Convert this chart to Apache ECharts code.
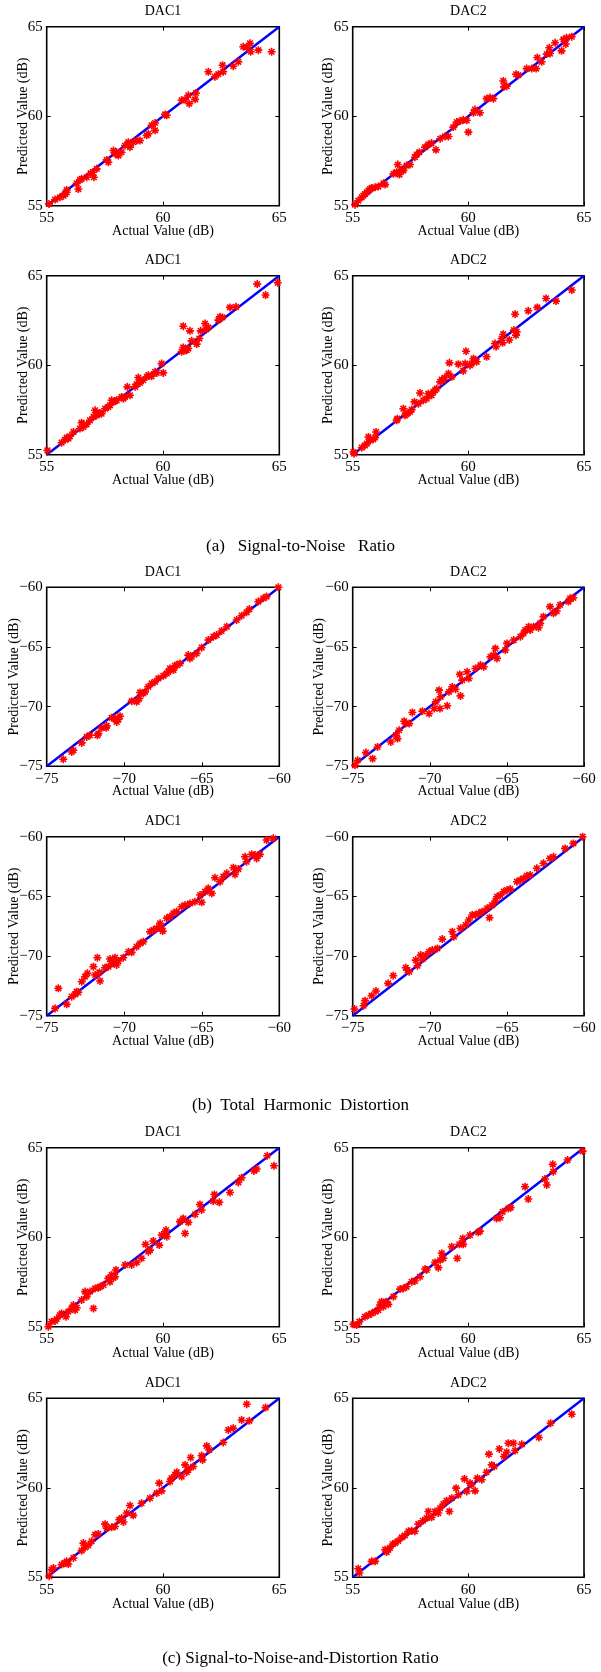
<!DOCTYPE html>
<html>
<head>
<meta charset="utf-8">
<script src="https://cdn.jsdelivr.net/npm/echarts@6/dist/echarts.min.js"></script>
<style>
html,body{margin:0;padding:0;background:#fff;}
#chart{width:601px;height:1672px;}
</style>
</head>
<body>
<div id="chart"></div>
<script>
// ---------------- DATA ----------------
const panelTitles = ['DAC1', 'DAC2', 'ADC1', 'ADC2'];
const captions = ['(a)   Signal-to-Noise   Ratio', '(b)  Total  Harmonic  Distortion', '(c) Signal-to-Noise-and-Distortion Ratio'];
const xAxisLabel = 'Actual Value (dB)';
const yAxisLabel = 'Predicted Value (dB)';
const snrRange = [55, 65];
const thdRange = [-75, -60];
const tickInterval = 5;

// (a) Signal-to-Noise Ratio  [actual, predicted]
const snrDac1 = [[55.1,55.1],[55.36,55.34],[55.57,55.47],[55.72,55.56],[55.79,55.65],[55.86,55.75],[55.86,55.88],
[56.29,56.25],[56.36,55.93],[56.43,56.44],[56.5,56.5],[56.72,56.59],[56.89,56.81],[56.98,56.87],[57.03,56.59],[57.15,57.06],
[57.58,57.56],[57.65,57.43],[57.87,58.08],[57.94,57.9],[58.01,57.99],[58.08,57.8],[58.22,57.99],[58.37,58.36],[58.51,58.55],
[58.58,58.27],[58.72,58.55],[58.87,58.64],[59.01,58.64],[59.3,58.93],[59.37,59.02],[59.51,59.49],[59.66,59.62],[59.66,59.21],
[60.09,60.1],[60.16,60.05],[60.8,60.89],[60.95,60.93],[61.09,61.17],[61.13,60.7],[61.38,60.94],[61.42,61.3],
[61.95,62.48],[62.23,62.2],[62.38,62.35],[62.56,62.85],[62.59,62.48],[63.02,62.79],[63.24,63.04],
[63.45,63.88],[63.6,63.84],[63.74,64.07],[63.77,63.6],[64.1,63.69],[64.67,63.6]];
const snrDac2 = [[55.1,55.06],[55.24,55.28],[55.39,55.47],[55.46,55.56],[55.53,55.65],[55.61,55.75],[55.68,55.84],[55.75,55.93],
[55.82,55.99],[55.97,56.03],[56.11,56.07],[56.33,56.25],[56.4,56.18],[56.76,56.78],[56.9,56.87],[56.95,57.3],[57.02,56.74],
[57.12,57.0],[57.19,56.96],[57.33,57.24],[57.48,57.3],[57.69,57.71],[57.77,57.86],[57.88,57.99],[58.13,58.27],[58.27,58.42],
[58.41,58.5],[58.6,58.12],[58.78,58.74],[58.99,58.87],[59.14,58.87],[59.35,59.39],[59.5,59.67],[59.64,59.73],[59.78,59.8],
[59.93,59.77],[60.0,59.11],[60.22,60.19],[60.29,60.37],[60.5,60.19],[60.79,60.98],[60.94,61.04],[61.08,60.98],[61.51,61.97],
[61.54,61.64],[61.66,61.68],[62.06,62.34],[62.16,62.29],[62.52,62.66],[62.74,62.66],[62.98,63.28],[62.93,62.66],[63.17,63.04],
[63.39,63.47],[63.53,63.5],[63.5,63.82],[63.75,64.1],[64.03,63.65],[64.11,64.29],[64.21,64.03],[64.25,64.38],[64.47,64.44]];
const snrAdc1 = [[55.03,55.24],[55.64,55.67],[55.79,55.84],[55.86,55.95],[55.93,55.9],[56.0,56.03],[56.15,56.27],[56.43,56.46],
[56.5,56.79],[56.58,56.55],[56.72,56.7],[56.86,56.92],[57.01,57.11],[57.08,57.48],[57.15,57.2],[57.22,57.29],[57.29,57.33],
[57.36,57.29],[57.51,57.57],[57.65,57.67],[57.72,57.76],[57.79,58.04],[57.87,57.95],[57.94,58.0],[58.01,58.04],[58.22,58.23],
[58.3,58.13],[58.37,58.23],[58.47,58.79],[58.58,58.32],[58.8,58.79],[58.87,58.94],[58.94,59.31],[59.01,59.01],[59.15,59.16],
[59.3,59.35],[59.37,59.44],[59.51,59.38],[59.66,59.63],[59.73,59.57],[59.94,60.09],[60.01,59.57],[60.8,60.75],[60.87,60.99],
[60.95,60.84],[61.02,60.84],[61.09,60.93],[60.87,62.18],[61.16,61.92],[61.23,61.36],[61.45,61.18],[61.56,61.49],[61.62,61.92],
[61.81,62.33],[61.85,62.0],[61.95,62.11],[62.38,62.52],[62.45,62.7],[62.56,62.67],[62.88,63.23],[63.14,63.26],[64.05,64.53],
[64.41,63.92],[64.93,64.61]];
const snrAdc2 = [[55.03,55.15],[55.06,55.06],[55.39,55.39],[55.53,55.52],[55.61,55.62],[55.68,55.99],[55.75,55.8],[55.89,55.86],
[55.97,55.95],[56.01,56.27],[56.9,56.92],[56.93,57.01],[57.19,57.57],[57.26,57.2],[57.33,57.26],[57.48,57.39],[57.55,57.52],
[57.67,57.95],[57.84,57.85],[57.91,58.45],[58.05,58.04],[58.2,58.13],[58.27,58.41],[58.41,58.32],[58.49,58.51],[58.56,58.6],
[58.63,58.69],[58.78,59.07],[58.85,59.2],[58.92,59.16],[58.99,59.31],[59.14,59.53],[59.18,60.13],[59.28,59.35],[59.57,60.06],
[59.78,59.68],[59.86,60.09],[59.9,60.78],[60.07,59.99],[60.14,60.09],[60.22,60.37],[60.29,60.28],[60.36,60.19],[60.79,60.47],
[61.15,61.21],[61.2,61.03],[61.44,61.49],[61.51,61.73],[61.48,61.25],[61.77,61.41],[61.97,61.96],[62.02,62.85],[62.06,61.68],
[62.09,61.87],[62.59,63.04],[62.98,63.23],[63.36,63.73],[63.79,63.58],[64.47,64.2]];

// (b) Total Harmonic Distortion  [actual, predicted]
const thdDac1 = [[-73.93,-74.41],[-73.39,-73.8],[-73.28,-73.66],[-72.74,-73.04],[-72.42,-72.54],[-72.21,-72.4],[-71.73,-72.4],
[-71.67,-72.26],[-71.45,-71.78],[-71.17,-71.78],[-71.13,-71.61],[-70.81,-70.94],[-70.59,-70.99],[-70.49,-71.28],[-70.38,-71.08],
[-70.27,-70.8],[-69.52,-69.54],[-69.2,-69.6],[-69.03,-69.32],[-68.98,-68.81],[-68.77,-68.9],[-68.66,-68.76],[-68.45,-68.34],
[-68.23,-68.06],[-68.02,-67.92],[-67.8,-67.64],[-67.48,-67.42],[-67.26,-67.22],[-67.16,-67.08],[-67.05,-66.8],[-66.83,-66.94],
[-66.73,-66.58],[-66.62,-66.52],[-66.4,-66.38],[-65.87,-65.68],[-65.76,-65.96],[-65.65,-65.82],[-65.33,-65.54],[-65.01,-65.06],
[-64.58,-64.42],[-64.25,-64.14],[-64.04,-64.0],[-63.72,-63.66],[-63.39,-63.3],[-62.75,-62.74],[-62.43,-62.38],[-62.11,-62.1],
[-61.93,-61.82],[-61.35,-61.2],[-61.03,-60.92],[-60.82,-60.78],[-60.06,-60.0]];
const thdDac2 = [[-74.85,-74.92],[-74.68,-74.5],[-74.14,-73.85],[-73.71,-74.36],[-73.39,-73.38],[-72.53,-72.96],[-72.2,-72.4],
[-72.09,-72.68],[-71.99,-71.98],[-71.66,-71.22],[-71.56,-71.42],[-71.34,-71.42],[-71.13,-70.49],[-70.48,-70.38],[-70.05,-70.58],
[-69.72,-70.16],[-69.61,-69.6],[-69.4,-68.62],[-69.34,-70.16],[-69.3,-69.18],[-68.87,-69.93],[-68.76,-68.76],[-68.54,-68.34],
[-68.33,-68.54],[-68.05,-67.3],[-68.01,-69.1],[-67.9,-67.78],[-67.58,-67.08],[-67.47,-67.64],[-67.04,-66.8],[-66.72,-66.52],
[-66.5,-66.66],[-66.07,-65.82],[-65.85,-65.68],[-65.75,-65.12],[-65.64,-65.96],[-65.1,-65.26],[-64.99,-64.7],[-64.56,-64.42],
[-64.13,-64.14],[-63.92,-63.86],[-63.81,-63.58],[-63.59,-63.3],[-63.49,-63.58],[-63.27,-63.3],[-62.95,-63.39],[-62.84,-63.02],
[-62.63,-62.46],[-62.2,-61.62],[-61.98,-62.18],[-61.77,-61.99],[-61.55,-61.48],[-61.01,-61.2],[-60.9,-60.92],[-60.69,-60.87]];
const thdAdc1 = [[-74.46,-74.39],[-74.25,-72.71],[-73.71,-74.05],[-73.39,-73.41],[-73.17,-73.21],[-73.07,-72.99],[-72.96,-73.04],
[-72.74,-72.15],[-72.53,-71.73],[-72.38,-71.45],[-71.99,-70.89],[-71.88,-71.59],[-71.73,-70.14],[-71.6,-71.37],[-71.56,-72.09],
[-71.24,-70.98],[-71.02,-70.89],[-70.92,-70.25],[-70.81,-70.42],[-70.7,-70.61],[-70.59,-70.14],[-70.49,-70.75],[-70.38,-70.42],
[-70.06,-70.14],[-69.73,-69.64],[-69.52,-69.69],[-69.2,-69.22],[-68.98,-68.94],[-68.77,-68.8],[-68.34,-67.96],[-68.12,-67.82],
[-67.91,-67.68],[-67.69,-67.26],[-67.59,-67.68],[-67.52,-67.91],[-67.26,-66.84],[-67.05,-66.7],[-66.83,-66.42],[-66.62,-66.28],
[-66.3,-65.87],[-66.08,-65.73],[-65.76,-65.59],[-65.44,-65.45],[-65.11,-64.89],[-65.01,-65.5],[-64.79,-64.61],[-64.58,-64.33],
[-64.36,-64.75],[-64.15,-63.44],[-63.82,-63.77],[-63.61,-63.35],[-63.39,-63.07],[-62.96,-62.6],[-62.86,-63.16],[-62.64,-62.71],
[-62.21,-61.68],[-62.11,-62.1],[-61.78,-61.48],[-61.57,-61.54],[-61.46,-61.82],[-61.25,-61.48],[-60.82,-60.28],[-60.39,-60.14]];
const thdAdc2 = [[-74.89,-74.44],[-74.29,-74.16],[-74.2,-73.74],[-73.77,-73.32],[-73.49,-72.93],[-72.7,-72.29],[-72.37,-71.65],
[-71.56,-70.98],[-71.45,-71.17],[-71.34,-71.31],[-70.91,-70.34],[-70.8,-70.81],[-70.59,-69.92],[-70.48,-70.25],[-70.27,-69.92],
[-70.05,-69.64],[-69.84,-69.5],[-69.51,-69.36],[-69.19,-68.58],[-68.54,-67.96],[-68.44,-68.38],[-68.01,-67.68],[-67.68,-67.4],
[-67.47,-66.98],[-67.25,-66.56],[-67.04,-66.56],[-66.82,-66.42],[-66.61,-66.28],[-66.28,-66.0],[-66.13,-66.79],[-65.96,-65.73],
[-65.75,-65.39],[-65.64,-65.03],[-65.42,-64.89],[-65.21,-64.61],[-64.99,-64.47],[-64.78,-64.39],[-64.35,-63.77],[-64.13,-63.63],
[-63.92,-63.49],[-63.7,-63.27],[-63.49,-63.21],[-63.06,-62.65],[-62.63,-62.23],[-62.2,-61.82],[-61.98,-61.68],[-61.23,-60.98],
[-60.69,-60.56],[-60.09,-60.0]];

// (c) Signal-to-Noise-and-Distortion Ratio  [actual, predicted]
const sinadDac1 = [[55.07,55.0],[55.21,55.28],[55.36,55.32],[55.43,55.43],[55.57,55.65],[55.64,55.74],[55.83,55.56],[55.93,55.84],
[56.07,56.02],[56.15,56.21],[56.22,55.93],[56.29,56.06],[56.5,56.49],[56.65,56.96],[56.72,56.68],[56.86,56.96],[57.01,56.02],
[57.08,57.14],[57.22,57.18],[57.29,57.23],[57.44,57.33],[57.65,57.7],[57.72,57.51],[57.79,57.89],[57.87,57.74],[57.94,57.79],
[57.98,58.17],[58.37,58.45],[58.65,58.45],[58.87,58.59],[59.08,58.82],[59.25,59.6],[59.37,59.19],[59.44,59.28],[59.58,59.79],
[59.84,59.56],[59.94,60.12],[60.09,60.21],[60.13,60.4],[60.16,60.03],[60.73,60.87],[60.87,61.05],[60.95,60.21],[61.09,60.83],
[61.38,61.28],[61.59,61.83],[61.66,61.52],[62.16,62.02],[62.21,62.39],[62.42,61.95],[62.88,62.5],[63.24,63.06],[63.38,63.32],
[63.91,63.7],[64.03,63.81],[64.48,64.55],[64.77,63.99]];
const sinadDac2 = [[55.03,55.13],[55.17,55.09],[55.29,55.28],[55.53,55.56],[55.68,55.65],[55.82,55.74],[55.97,55.84],[56.11,55.93],
[56.18,56.21],[56.25,56.4],[56.33,56.12],[56.44,56.4],[56.54,56.25],[56.76,56.68],[57.05,57.1],[57.19,57.14],[57.33,57.23],
[57.55,57.51],[57.69,57.55],[57.91,57.79],[58.13,58.22],[58.2,58.17],[58.56,58.59],[58.7,58.3],[58.78,58.72],[58.85,59.1],
[58.92,58.82],[59.28,59.47],[59.52,58.82],[59.61,59.6],[59.76,59.93],[59.78,59.6],[60.07,60.12],[60.43,60.27],[60.5,60.34],
[61.22,61.05],[61.37,61.09],[61.48,61.42],[61.73,61.61],[61.83,61.65],[62.45,62.82],[62.59,62.13],[63.31,63.25],[63.39,62.92],
[63.65,64.07],[63.67,63.66],[64.29,64.31],[64.94,64.81]];
const sinadAdc1 = [[55.11,55.06],[55.21,55.43],[55.29,55.52],[55.64,55.71],[55.79,55.8],[55.93,55.74],[55.86,55.89],[56.15,56.08],
[56.5,56.49],[56.58,56.91],[56.65,56.67],[56.79,56.78],[56.93,57.01],[57.08,57.38],[57.22,57.42],[57.51,57.97],[57.58,57.75],
[57.79,57.79],[57.94,57.84],[58.12,58.22],[58.22,58.31],[58.3,58.09],[58.44,58.59],[58.58,59.01],[58.72,58.46],[59.08,59.14],
[59.44,59.42],[59.73,59.7],[59.84,60.26],[59.94,59.83],[60.3,60.35],[60.37,60.54],[60.52,60.72],[60.59,60.87],[60.8,60.63],
[60.95,61.28],[61.02,60.87],[61.09,61.0],[61.19,61.69],[61.3,61.19],[61.66,61.8],[61.7,61.56],[61.88,62.34],[61.99,62.12],
[62.59,62.53],[62.81,63.23],[63.02,63.33],[63.38,63.79],[63.6,64.67],[63.71,63.74],[64.41,64.48]];
const sinadAdc2 = [[55.24,55.48],[55.29,55.24],[55.82,55.89],[55.97,55.89],[56.4,56.54],[56.47,56.41],[56.54,56.54],[56.61,56.64],
[56.73,56.86],[56.83,56.91],[56.97,57.04],[57.12,57.23],[57.26,57.34],[57.41,57.57],[57.55,57.6],[57.69,57.57],[57.84,57.97],
[58.03,58.16],[58.2,58.31],[58.27,58.68],[58.41,58.35],[58.56,58.68],[58.7,58.59],[58.78,58.87],[58.92,59.09],[59.06,59.28],
[59.18,58.68],[59.28,59.42],[59.47,59.98],[59.57,59.61],[59.83,60.5],[59.93,59.8],[60.07,60.26],[60.14,60.17],[60.29,59.83],
[60.39,60.54],[60.58,60.45],[60.79,60.87],[60.89,61.88],[61.01,61.28],[61.12,61.19],[61.34,62.17],[61.54,61.75],[61.66,61.99],
[61.73,62.49],[61.95,62.49],[62.02,62.08],[62.31,62.43],[63.05,62.81],[63.56,63.61],[64.47,64.11]];

// ---------------- LAYOUT ----------------
const groups = [
  {range: snrRange, yGap: 16.6, sets: [snrDac1, snrDac2, snrAdc1, snrAdc2]},
  {range: thdRange, yGap: 25, sets: [thdDac1, thdDac2, thdAdc1, thdAdc2]},
  {range: snrRange, yGap: 16.6, sets: [sinadDac1, sinadDac2, sinadAdc1, sinadAdc2]}
];

const colLeft = [46.7, 352.7];
const colWidth = [232.6, 231.3];
const rowTop = [26.7, 275.7, 587.3, 836.7, 1147.7, 1398.3];
const rowHeight = 179;
const captionY = [547, 1106, 1659];

const FONT = '"Liberation Serif", "Times New Roman", serif';
const STAR = 'path://M-1,-0.2L1,-0.2L1,0.2L-1,0.2Z M-0.2,-1L0.2,-1L0.2,1L-0.2,1Z ' +
  'M-0.56,-0.84L0.84,0.56L0.56,0.84L-0.84,-0.56Z M-0.84,0.56L0.56,-0.84L0.84,-0.56L-0.56,0.84Z';

const fmt = v => (v < 0 ? '\u2212' + Math.abs(v) : String(v));

const grids = [], xAxes = [], yAxes = [], series = [], graphics = [];
let k = 0;
groups.forEach((g, gi) => {
  g.sets.forEach((data, pi) => {
    const row = gi * 2 + Math.floor(pi / 2);
    const col = pi % 2;
    const left = colLeft[col], top = rowTop[row], width = colWidth[col];
    grids.push({left: left, top: top, width: width, height: rowHeight,
      show: true, borderColor: '#000', borderWidth: 1.6, backgroundColor: '#fff'});
    const common = {type: 'value', gridIndex: k, min: g.range[0], max: g.range[1], interval: tickInterval,
      splitLine: {show: false}, axisLine: {show: false}, nameMoveOverlap: false,
      axisTick: {show: true, inside: true, length: 4, lineStyle: {color: '#000', width: 1}}};
    xAxes.push(Object.assign({}, common, {position: 'bottom', name: xAxisLabel, nameLocation: 'middle',
      nameGap: gi === 2 ? 20 : 18.5,
      nameTextStyle: {fontFamily: FONT, fontSize: 14, color: '#000'},
      axisLabel: {show: true, margin: 5, fontFamily: FONT, fontSize: 15, color: '#000', formatter: fmt}}));
    xAxes.push(Object.assign({}, common, {position: 'top', axisLabel: {show: false}}));
    yAxes.push(Object.assign({}, common, {position: 'left', name: yAxisLabel, nameLocation: 'middle',
      nameGap: g.yGap + col, nameRotate: 90,
      nameTextStyle: {fontFamily: FONT, fontSize: 14, color: '#000'},
      axisLabel: {show: true, margin: 4, fontFamily: FONT, fontSize: 15, color: '#000', formatter: fmt}}));
    yAxes.push(Object.assign({}, common, {position: 'right', axisLabel: {show: false}}));
    series.push({type: 'line', xAxisIndex: 2 * k, yAxisIndex: 2 * k,
      data: [[g.range[0], g.range[0]], [g.range[1], g.range[1]]],
      symbol: 'none', lineStyle: {color: '#0000ff', width: 2.4}, silent: true, z: 2});
    series.push({type: 'scatter', xAxisIndex: 2 * k, yAxisIndex: 2 * k, data: data,
      symbol: STAR, symbolSize: 8, itemStyle: {color: '#ff0000', opacity: 1}, silent: true, z: 3});
    graphics.push({type: 'text', x: left + width / 2, y: top - 15,
      style: {text: panelTitles[pi], textAlign: 'center', textVerticalAlign: 'middle',
        font: '14px ' + FONT, fill: '#000'}});
    k++;
  });
});
captions.forEach((c, i) => {
  graphics.push({type: 'text', x: 300.5, y: captionY[i],
    style: {text: c, textAlign: 'center', textVerticalAlign: 'middle', font: '17px ' + FONT, fill: '#000'}});
});

const chart = echarts.init(document.getElementById('chart'), null, {renderer: 'canvas', width: 601, height: 1672});
chart.setOption({
  animation: false,
  backgroundColor: '#fff',
  grid: grids, xAxis: xAxes, yAxis: yAxes, series: series, graphic: graphics
});
</script>
</body>
</html>
